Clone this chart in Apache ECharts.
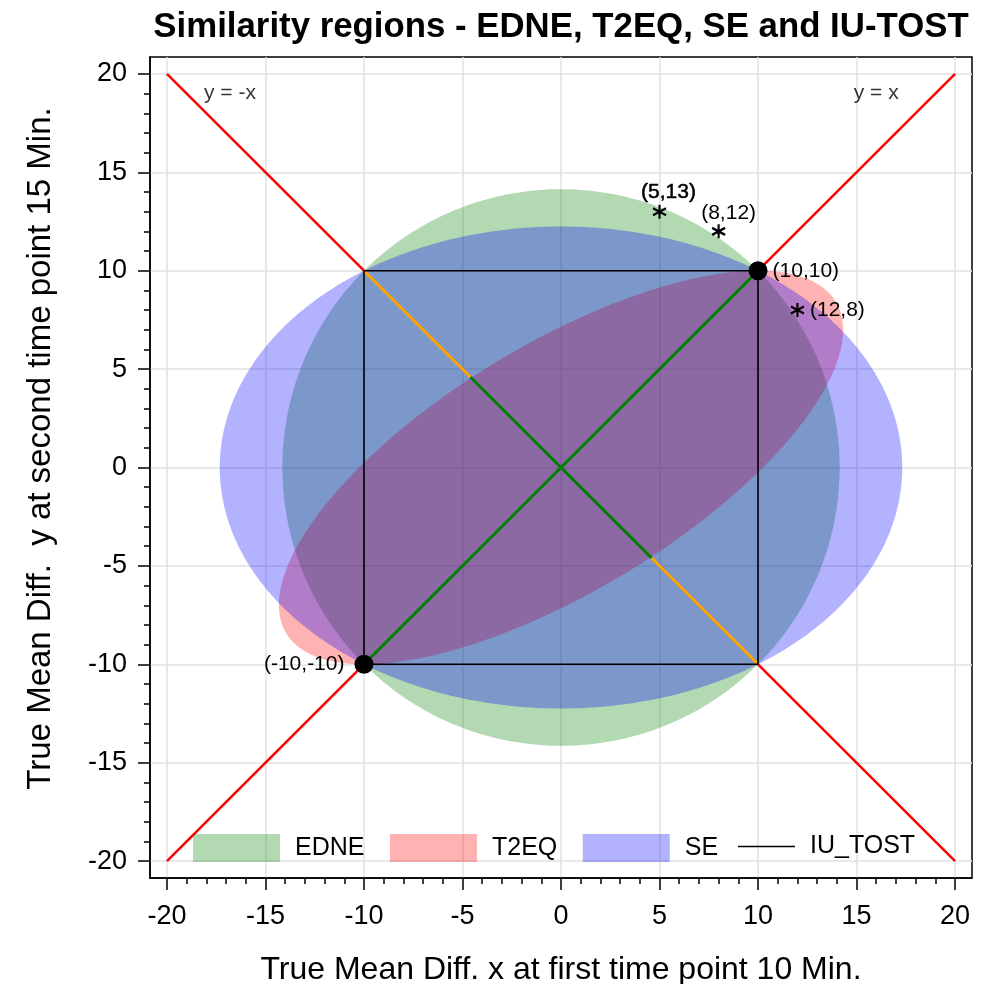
<!DOCTYPE html>
<html>
<head>
<meta charset="utf-8">
<script src="https://cdn.jsdelivr.net/npm/echarts@6/dist/echarts.min.js"></script>
<style>
html,body{margin:0;padding:0;background:#fff;}
#chart{width:993px;height:984px;}
</style>
</head>
<body>
<div id="chart"></div>
<script>
// ---------- data ----------
const axisRange = [-20.86, 20.86];
const majorTicks = [-20, -15, -10, -5, 0, 5, 10, 15, 20];
const minorTicks = [-19, -18, -17, -16, -14, -13, -12, -11, -9, -8, -7, -6, -4, -3, -2, -1,
                    1, 2, 3, 4, 6, 7, 8, 9, 11, 12, 13, 14, 16, 17, 18, 19];
// ellipse boundary matrices [sxx, sxy, syy]: boundary is d' M^-1 d = 1
const edneShape = [200, 0, 200];
const t2eqShape = [205, 100, 100];
const seShape = [300, 0, 150];
// IU-TOST square
const iuSquare = [[-10, -10], [10, -10], [10, 10], [-10, 10], [-10, -10]];
// reference lines
const redSegments = [[[-20, 20], [-10, 10]], [[10, -10], [20, -20]], [[-20, -20], [-10, -10]], [[10, 10], [20, 20]]];
const greenSegments = [[[-10, -10], [10, 10]], [[-4.6, 4.6], [4.6, -4.6]]];
const orangeSegments = [[[-10, 10], [-4.6, 4.6]], [[4.6, -4.6], [10, -10]]];
// points
const dotPoints = [[10, 10], [-10, -10]];
const dotLabels = ['(10,10)', '(-10,-10)'];
const starPoints = [[5, 13], [8, 12], [12, 8]];
const starLabels = ['(5,13)', '(8,12)', '(12,8)'];
const lineNotes = [[-16.8, 19], [16, 19]];
const lineNoteLabels = ['y = -x', 'y = x'];
const legendNames = ['EDNE', 'T2EQ', 'SE', 'IU_TOST'];

// ---------- chart ----------
const FONT = '"Liberation Sans", Arial, sans-serif';
const chart = echarts.init(document.getElementById('chart'), null, {renderer: 'canvas'});

function ellipseRenderer(shape, color) {
  return function (params, api) {
    const a = shape[0], b = shape[1], c = shape[2];
    const l11 = Math.sqrt(a), l21 = b / l11, l22 = Math.sqrt(c - l21 * l21);
    const pts = [];
    for (let i = 0; i < 360; i++) {
      const t = i * Math.PI / 180;
      pts.push(api.coord([l11 * Math.cos(t), l21 * Math.cos(t) + l22 * Math.sin(t)]));
    }
    return {type: 'polygon', shape: {points: pts}, style: {fill: color}};
  };
}
function segs(list) { return list.map(s => ({coords: s})); }

const colGreen = 'rgba(0,128,0,0.3)';
const colRed = 'rgba(255,0,0,0.3)';
const colBlue = 'rgba(0,0,255,0.3)';

function mkX(main) {
  return main ? {
    type: 'value', min: axisRange[0], max: axisRange[1], position: 'bottom',
    name: 'True Mean Diff. x at first time point 10 Min.', nameLocation: 'middle', nameGap: 76,
    nameTextStyle: {fontSize: 32, fontFamily: FONT, color: '#000'},
    axisLine: {show: true, onZero: false, lineStyle: {color: '#000', width: 1.5}},
    axisTick: {show: true, customValues: majorTicks, length: 12, lineStyle: {color: '#000', width: 1.5}},
    axisLabel: {show: true, customValues: majorTicks, fontSize: 27, fontFamily: FONT, color: '#000', margin: 25},
    splitLine: {show: true, lineStyle: {color: '#e2e2e2', width: 1.5}}
  } : {
    type: 'value', min: axisRange[0], max: axisRange[1], position: 'bottom',
    axisLine: {show: false, onZero: false},
    axisTick: {show: true, customValues: minorTicks, length: 6, lineStyle: {color: '#000', width: 1.5}},
    axisLabel: {show: false}, splitLine: {show: false}
  };
}
function mkY(main) {
  return main ? {
    type: 'value', min: axisRange[0], max: axisRange[1], position: 'left',
    name: 'True Mean Diff.  y at second time point 15 Min.', nameLocation: 'middle', nameGap: 93,
    nameTextStyle: {fontSize: 33, fontFamily: FONT, color: '#000', padding: [0, 0, 0, 38]},
    axisLine: {show: true, onZero: false, lineStyle: {color: '#000', width: 1.5}},
    axisTick: {show: true, customValues: majorTicks, length: 12, lineStyle: {color: '#000', width: 1.5}},
    axisLabel: {show: true, customValues: majorTicks, fontSize: 27, fontFamily: FONT, color: '#000', margin: 23},
    splitLine: {show: true, lineStyle: {color: '#e2e2e2', width: 1.5}}
  } : {
    type: 'value', min: axisRange[0], max: axisRange[1], position: 'left',
    axisLine: {show: false, onZero: false},
    axisTick: {show: true, customValues: minorTicks, length: 6, lineStyle: {color: '#000', width: 1.5}},
    axisLabel: {show: false}, splitLine: {show: false}
  };
}

const option = {
  animation: false,
  backgroundColor: '#fff',
  title: {
    text: 'Similarity regions - EDNE, T2EQ, SE and IU-TOST',
    left: 556, top: 5, textAlign: 'center',
    textStyle: {fontSize: 34.8, fontWeight: 'bold', fontFamily: FONT, color: '#000'}
  },
  grid: {left: 150, right: 21, top: 57, bottom: 106, show: true, borderColor: '#000', borderWidth: 1.5,
         containLabel: false, outerBoundsMode: 'none'},
  legend: [
    {
      data: [
        {name: legendNames[0], icon: 'rect', itemStyle: {color: colGreen}},
        {name: legendNames[1], icon: 'rect', itemStyle: {color: colRed}},
        {name: legendNames[2], icon: 'rect', itemStyle: {color: colBlue}}
      ],
      left: 193, top: 834, itemWidth: 87, itemHeight: 28, itemGap: 25.5, padding: 0,
      selectedMode: false,
      textStyle: {fontSize: 25, fontFamily: FONT, color: '#000', padding: [0, 0, 0, 10]}
    },
    {
      data: [{name: legendNames[3], icon: 'rect', itemStyle: {color: '#000'}}],
      left: 738, top: 834, itemWidth: 57, itemHeight: 1.6, padding: 0, selectedMode: false,
      textStyle: {fontSize: 25, fontFamily: FONT, color: '#000', padding: [0, 0, 0, 10]}
    }
  ],
  xAxis: [mkX(true), mkX(false)],
  yAxis: [mkY(true), mkY(false)],
  series: [
    {name: legendNames[0], type: 'custom', renderItem: ellipseRenderer(edneShape, colGreen),
     data: [[0, 0]], encode: {x: 0, y: 1}, silent: true, itemStyle: {color: colGreen}},
    {name: legendNames[1], type: 'custom', renderItem: ellipseRenderer(t2eqShape, colRed),
     data: [[0, 0]], encode: {x: 0, y: 1}, silent: true, itemStyle: {color: colRed}},
    {name: legendNames[3], type: 'line', data: iuSquare, symbol: 'none', silent: true,
     lineStyle: {color: '#000', width: 1.6}, itemStyle: {color: '#000'}},
    {name: legendNames[2], type: 'custom', renderItem: ellipseRenderer(seShape, colBlue),
     data: [[0, 0]], encode: {x: 0, y: 1}, silent: true, itemStyle: {color: colBlue}},
    {type: 'lines', coordinateSystem: 'cartesian2d', data: segs(redSegments), silent: true,
     lineStyle: {color: '#ff0000', width: 2.5, opacity: 1}},
    {type: 'lines', coordinateSystem: 'cartesian2d', data: segs(greenSegments), silent: true,
     lineStyle: {color: '#008000', width: 3, opacity: 1}},
    {type: 'lines', coordinateSystem: 'cartesian2d', data: segs(orangeSegments), silent: true,
     lineStyle: {color: '#ffa500', width: 3, opacity: 1}},
    {type: 'scatter', symbol: 'circle', symbolSize: 19, silent: true,
     itemStyle: {color: '#000', opacity: 1},
     data: dotPoints.map((p, i) => ({value: p, label: {
       show: true, formatter: dotLabels[i], position: i === 0 ? 'right' : 'left', distance: i === 0 ? 5 : 10,
       fontSize: 21, fontFamily: FONT, color: '#000'}}))},
    {type: 'scatter', silent: true,
     symbol: 'path://M0,-10L0,10M-8.66,-5L8.66,5M-8.66,5L8.66,-5', symbolSize: [13, 14],
     itemStyle: {color: 'rgba(0,0,0,0)', borderColor: '#000', borderWidth: 2.2, opacity: 1},
     data: starPoints.map((p, i) => ({value: p, label: {
       show: true, formatter: starLabels[i],
       position: i === 2 ? 'right' : 'inside', distance: 5,
       offset: i === 0 ? [9, -19] : (i === 1 ? [10, -18.5] : [0, 0]),
       fontSize: 21, fontFamily: FONT, color: '#000',
       textBorderColor: i === 0 ? '#000' : 'transparent', textBorderWidth: i === 0 ? 0.5 : 0}}))},
    {type: 'scatter', silent: true, symbolSize: 1, itemStyle: {color: 'rgba(0,0,0,0)'},
     data: lineNotes.map((p, i) => ({value: p, label: {
       show: true, formatter: lineNoteLabels[i], position: 'inside',
       fontSize: 21, fontFamily: FONT, color: '#000'}}))}
  ]
};
chart.setOption(option);
</script>
</body>
</html>
